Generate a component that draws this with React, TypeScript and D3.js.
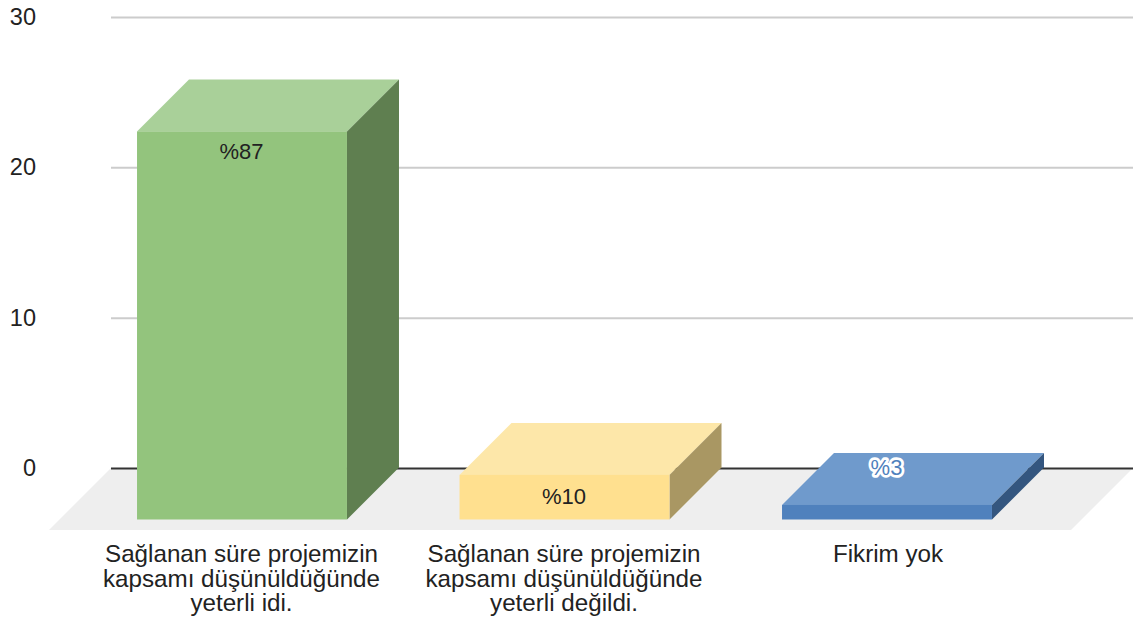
import React, { useEffect, useRef } from 'react';
import * as d3 from 'd3';

const categories = [
  ['Sağlanan süre projemizin', 'kapsamı düşünüldüğünde', 'yeterli idi.'],
  ['Sağlanan süre projemizin', 'kapsamı düşünüldüğünde', 'yeterli değildi.'],
  ['Fikrim yok'],
];
const values = [25.85, 3, 1];
const valueLabels = ['%87', '%10', '%3'];
const yTicks = [0, 10, 20, 30];
const frontColors = ['#93c47d', '#ffe08f', '#4f81bd'];
const topColors = ['#a9d099', '#fde7a9', '#6f9acc'];
const sideColors = ['#5f7f50', '#a99763', '#34567f'];

const width = 1135;
const height = 619;
const depth = 52; // how far the bars are pushed forward from the back wall
const floorDepth = 62;

const App = () => {
  const svgRef = useRef<SVGSVGElement>(null);

  useEffect(() => {
    const svg = d3.select(svgRef.current);
    svg.selectAll('*').remove();

    const wallLeft = 111;
    const wallRight = 1133;
    const y = d3.scaleLinear().domain([0, 30]).range([468, 17]);
    const x = d3
      .scaleBand<number>()
      .domain(values.map((_, i) => i))
      .range([80.75, 1048.25])
      .paddingInner(0.349)
      .paddingOuter(0.1745);

    // floor
    const line = d3.line();
    svg
      .append('path')
      .attr(
        'd',
        line([
          [wallLeft, y(0)],
          [wallRight, y(0)],
          [wallRight - floorDepth, y(0) + floorDepth],
          [wallLeft - floorDepth, y(0) + floorDepth],
        ]) + 'Z',
      )
      .attr('fill', '#eeeeee');

    // gridlines + y labels
    const axis = svg
      .append('g')
      .attr('transform', `translate(${wallLeft},0)`)
      .call(
        d3
          .axisLeft(y)
          .tickValues(yTicks)
          .tickSize(-(wallRight - wallLeft))
          .tickPadding(75),
      );
    axis.select('.domain').remove();
    axis
      .selectAll('.tick line')
      .attr('stroke', (d) => (d === 0 ? '#333333' : '#cccccc'))
      .attr('stroke-width', 2);
    axis
      .selectAll('.tick text')
      .attr('fill', '#222222')
      .attr('dy', '0.32em')
      .attr('font-family', '"Liberation Sans", Arial, sans-serif')
      .attr('font-size', 23.5);

    // bars
    const bars = svg
      .selectAll('.bar')
      .data(values)
      .enter()
      .append('g')
      .attr('class', 'bar');

    const x0 = (i: number) => x(i) as number;
    const x1 = (i: number) => x0(i) + x.bandwidth();
    const yTop = (v: number) => y(v) + depth;
    const yBase = y(0) + depth - 0.5;

    bars
      .append('path')
      .attr('fill', (_, i) => topColors[i])
      .attr(
        'd',
        (v, i) =>
          line([
            [x0(i), yTop(v)],
            [x1(i), yTop(v)],
            [x1(i) + depth, yTop(v) - depth],
            [x0(i) + depth, yTop(v) - depth],
          ]) + 'Z',
      );
    bars
      .append('path')
      .attr('fill', (_, i) => sideColors[i])
      .attr(
        'd',
        (v, i) =>
          line([
            [x1(i), yTop(v)],
            [x1(i) + depth, yTop(v) - depth],
            [x1(i) + depth, yBase - depth],
            [x1(i), yBase],
          ]) + 'Z',
      );
    bars
      .append('rect')
      .attr('fill', (_, i) => frontColors[i])
      .attr('x', (_, i) => x0(i))
      .attr('y', (v) => yTop(v))
      .attr('width', x.bandwidth())
      .attr('height', (v) => yBase - yTop(v));

    // value labels, placement differs per bar like in the original
    const labelShift = [20, 21, -38];
    bars
      .append('text')
      .text((_, i) => valueLabels[i])
      .attr('x', (_, i) => x0(i) + x.bandwidth() / 2 - 0.5)
      .attr('y', (v, i) => yTop(v) + labelShift[i])
      .attr('dy', '0.35em')
      .attr('text-anchor', 'middle')
      .attr('font-family', '"Liberation Sans", Arial, sans-serif')
      .attr('font-size', 22)
      .attr('fill', (_, i) => (i === 2 ? '#4f81bd' : '#222222'))
      .attr('stroke', (_, i) => (i === 2 ? '#ffffff' : 'none'))
      .attr('stroke-width', 5.5)
      .attr('stroke-linejoin', 'round')
      .attr('paint-order', 'stroke');

    // category labels
    const cat = svg
      .selectAll('.cat')
      .data(categories)
      .enter()
      .append('text')
      .attr('class', 'cat')
      .attr('text-anchor', 'middle')
      .attr('font-family', '"Liberation Sans", Arial, sans-serif')
      .attr('font-size', 24.2)
      .attr('fill', '#222222');
    cat
      .selectAll('tspan')
      .data((d) => d)
      .enter()
      .append('tspan')
      .text((d) => d)
      .attr('x', function () {
        const i = categories.indexOf(d3.select((this as any).parentNode).datum() as string[]);
        return x0(i) + x.bandwidth() / 2 - 0.5 + (i === 2 ? 1.5 : 0);
      })
      .attr('y', (_, j) => 562 + j * 24.5);
  }, []);

  return (
    <svg
      ref={svgRef}
      width={width}
      height={height}
      style={{ position: 'absolute', left: 0, top: 0, background: '#ffffff' }}
    />
  );
};

export default App;
